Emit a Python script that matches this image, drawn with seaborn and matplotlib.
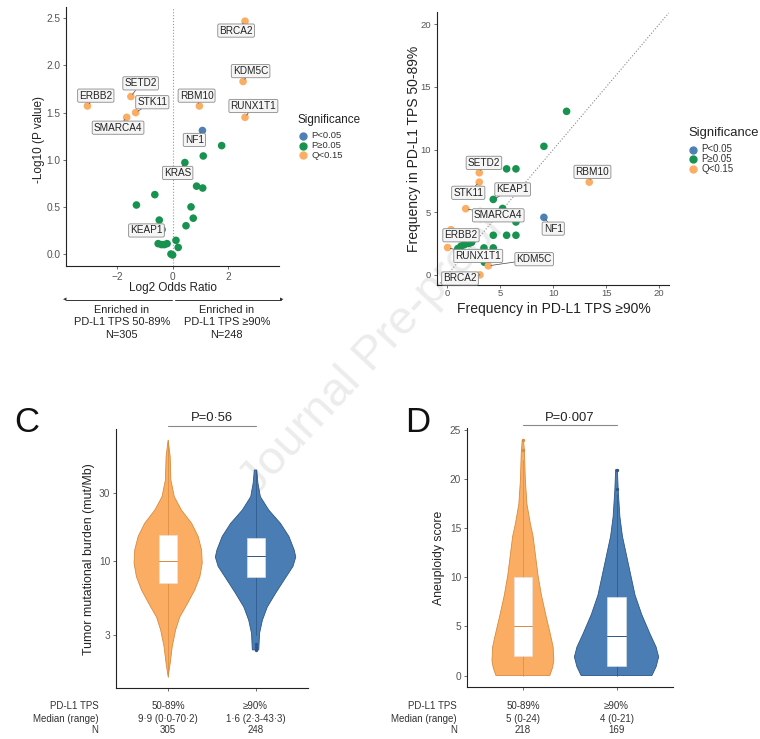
import numpy as np
import pandas as pd
import matplotlib
matplotlib.use("Agg")
import matplotlib.pyplot as plt
import matplotlib.transforms as mtrans
from matplotlib.lines import Line2D
import seaborn as sns

sns.set_style("ticks")
plt.rcParams["font.family"] = ["Liberation Sans", "DejaVu Sans"]

ORANGE = "#FBAE63"
GREEN = "#17934F"
BLUE = "#4E80B6"
sig_order = ["P<0.05", "P≥0.05", "Q<0.15"]
sig_colors = {"P<0.05": BLUE, "P≥0.05": GREEN, "Q<0.15": ORANGE}

# ── A : volcano ─────────────────────────────────────────────────────────────
volcano_genes = ["BRCA2", "KDM5C", "RUNX1T1", "RBM10", "ERBB2", "SETD2", "STK11",
                 "SMARCA4", "NF1", "KRAS", "KEAP1"] + [""] * 18
volcano_log2or = [2.6, 2.53, 2.6, 0.96, -3.06, -1.5, -1.33, -1.65, 1.07, 0.44, -0.38,
                  1.76, 1.1, 0.86, 1.08, -0.64, -1.3, 0.66, 0.74, -0.48, 0.48,
                  -0.52, -0.4, -0.3, -0.2, 0.12, 0.2, -0.06, 0.0]
volcano_logp = [2.47, 1.83, 1.45, 1.57, 1.57, 1.67, 1.5, 1.45, 1.31, 0.97, 0.26,
                1.15, 1.04, 0.72, 0.70, 0.63, 0.52, 0.50, 0.38, 0.36, 0.30,
                0.11, 0.10, 0.10, 0.11, 0.145, 0.07, 0.0, -0.01]
volcano_sig = ["Q<0.15"] * 8 + ["P<0.05"] + ["P≥0.05"] * 20
volcano_labels = {"BRCA2": (2.28, 2.37), "KDM5C": (2.8, 1.94), "RUNX1T1": (2.9, 1.57),
                  "RBM10": (0.86, 1.68), "ERBB2": (-2.76, 1.68), "SETD2": (-1.15, 1.81),
                  "STK11": (-0.73, 1.61), "SMARCA4": (-1.96, 1.34), "NF1": (0.78, 1.21),
                  "KRAS": (0.18, 0.86), "KEAP1": (-0.94, 0.25)}

# ── B : frequencies ─────────────────────────────────────────────────────────
freq_genes = ["SETD2", "STK11", "RBM10", "KEAP1", "SMARCA4", "NF1", "ERBB2",
              "RUNX1T1", "KDM5C", "BRCA2"] + [""] * 18
freq_90 = [3.02, 3.02, 13.4, 4.34, 1.74, 9.12, 0.35, 0.03, 3.87, 3.08,
           11.26, 9.12, 5.6, 6.48, 5.22, 6.48, 4.34, 5.6, 6.48, 3.46, 4.34, 3.5,
           1.0, 1.3, 1.6, 2.0, 2.3, 1.2]
freq_5089 = [8.15, 7.4, 7.4, 6.02, 5.28, 4.59, 3.6, 2.18, 0.72, 0.0,
             13.05, 10.26, 8.46, 8.46, 5.3, 4.22, 3.16, 3.16, 3.16, 2.15, 2.15, 1.0,
             2.1, 2.3, 2.4, 2.5, 2.6, 2.0]
freq_sig = ["Q<0.15", "Q<0.15", "Q<0.15", "P≥0.05", "Q<0.15", "P<0.05", "Q<0.15",
            "Q<0.15", "Q<0.15", "Q<0.15"] + ["P≥0.05"] * 18
freq_labels = {"SETD2": (3.46, 8.94), "STK11": (1.98, 6.55), "KEAP1": (6.17, 6.82),
               "SMARCA4": (4.81, 4.75), "RBM10": (13.7, 8.22), "NF1": (10.0, 3.69),
               "ERBB2": (1.29, 3.16), "RUNX1T1": (2.92, 1.51), "KDM5C": (8.2, 1.25),
               "BRCA2": (1.2, -0.29)}

# ── C / D : violins (profil de densité) ────────────────────────────────────
tps_groups = ["50-89%", "≥90%"]

tmb_vals = [[1.52, 1.89, 2.48, 3.25, 4.0, 5.0, 6.2, 7.7, 9.6, 11.9, 14.8, 18.3, 22.7,
             28.2, 37, 54, 70.9],
            [2.35, 3.08, 3.8, 4.7, 5.9, 7.3, 9.1, 10.6, 11.9, 14.8, 18.3, 22.7, 28.2,
             35, 43.5]]
tmb_dens = [[0, 0.06, 0.12, 0.22, 0.34, 0.57, 0.78, 0.93, 1.0, 0.98, 0.88, 0.69, 0.39,
             0.18, 0.08, 0.06, 0],
            [0.08, 0.10, 0.17, 0.29, 0.5, 0.71, 0.93, 1.0, 0.96, 0.83, 0.62, 0.33, 0.12,
             0.06, 0.03]]
tmb_box = [[6.9, 10.0, 15.2], [7.7, 10.7, 14.5]]
tmb_whisk = [[1.52, 70.9], [3.0, 43.5]]
tmb_out = [[], [2.35, 2.45, 2.6]]
tmb_median_range = ["9·9 (0·0-70·2)", "1·6 (2·3-43·3)"]
tmb_n = [305, 248]

aneu_vals = [[0, 0.8, 1.5, 2.9, 4.2, 6.2, 8.2, 10.2, 12.2, 14.2, 15.5, 17.5, 19.9,
              22.9, 24],
             [0, 0.9, 1.9, 2.9, 4.2, 6.2, 8.2, 10.2, 12.2, 14.2, 16.2, 18.9, 21.0]]
aneu_dens = [[0.87, 0.96, 1.0, 0.98, 0.89, 0.74, 0.6, 0.49, 0.41, 0.33, 0.24, 0.13,
              0.08, 0.05, 0.02],
             [0.84, 0.94, 1.0, 0.94, 0.8, 0.6, 0.44, 0.34, 0.24, 0.14, 0.08, 0.04, 0.02]]
aneu_box = [[2, 5, 10], [1, 4, 8]]
aneu_whisk = [[0, 22], [0, 18.5]]
aneu_out = [[23, 24], [19, 21]]
aneu_median_range = ["5 (0-24)", "4 (0-21)"]
aneu_n = [218, 169]

W, H = 760, 739
fig = plt.figure(figsize=(W / 100, H / 100), dpi=100)
fig.patch.set_facecolor("white")
TXT = "#222222"


def px_axes(l, t, r, b):
    return fig.add_axes([l / W, 1 - b / H, (r - l) / W, (b - t) / H])


def style_axes(ax, tick_fs=7.3):
    sns.despine(ax=ax)
    for s in ("left", "bottom"):
        ax.spines[s].set_color("#222222")
        ax.spines[s].set_linewidth(0.8)
    ax.tick_params(length=2.5, width=0.6, color="#555555", labelcolor="#555555",
                   labelsize=tick_fs, pad=1.5)
    ax.set_facecolor("none")


def label_box(ax, text, xy, xytext):
    ax.annotate(text, xy=xy, xytext=xytext, ha="center", va="center", fontsize=7.2,
                color=TXT, zorder=5,
                bbox=dict(boxstyle="round,pad=0.16,rounding_size=0.15",
                          fc="#F5F5F5", ec="#8A8A8A", lw=0.6),
                arrowprops=dict(arrowstyle="-", color="#444444", lw=0.5,
                                shrinkA=0, shrinkB=2))


def sig_legend(x_title, y_title, x_mark, ys, x_text, title_fs, fs):
    fig.text(x_title / W, 1 - y_title / H, "Significance", ha="left", va="center",
             fontsize=title_fs, color=TXT)
    for s, y in zip(sig_order, ys):
        fig.add_artist(Line2D([x_mark / W], [1 - y / H], marker="o", ls="",
                              color=sig_colors[s], markersize=5))
        fig.text(x_text / W, 1 - y / H, s, ha="left", va="center", fontsize=fs,
                 color="#333333")


# watermark
fig.text(0.49, 0.52, "Journal Pre-proof", rotation=47, fontsize=34, color="#ECECEC",
         ha="center", va="center", zorder=-1)

# ── A ──
axA = px_axes(66, 7, 279, 266)
dfA = pd.DataFrame({"gene": volcano_genes, "log2or": volcano_log2or,
                    "logp": volcano_logp, "sig": volcano_sig})
axA.axvline(0, color="#9A9A9A", ls=":", lw=0.8, zorder=0)
sns.scatterplot(data=dfA.iloc[::-1], x="log2or", y="logp", hue="sig", hue_order=sig_order,
                palette=sig_colors, s=30, linewidth=0, ax=axA, legend=False, zorder=3)
for g, xy in volcano_labels.items():
    row = dfA[dfA["gene"] == g].iloc[0]
    label_box(axA, g, (row["log2or"], row["logp"]), xy)
axA.set_xlim(-3.83, 3.82)
axA.set_ylim(-0.127, 2.62)
axA.set_xticks([-2, 0, 2])
axA.set_yticks([0, 0.5, 1.0, 1.5, 2.0, 2.5])
axA.set_yticklabels(["0.0", "0.5", "1.0", "1.5", "2.0", "2.5"])
style_axes(axA)
axA.set_xlabel("Log2 Odds Ratio", fontsize=8.5, color=TXT)
axA.set_ylabel("-Log10 (P value)", fontsize=8.5, color=TXT)
axA.xaxis.set_label_coords(0.502, -0.062)
axA.yaxis.set_label_coords(-0.1, 0.49)
sig_legend(297.5, 120, 303.3, [136, 145.7, 155.3], 311, 8.4, 6.8)

# flèches d'enrichissement
fig.add_artist(Line2D([172 / W, 66 / W], [1 - 300 / H] * 2, color="#333333", lw=0.7))
fig.add_artist(Line2D([175 / W, 281 / W], [1 - 300 / H] * 2, color="#333333", lw=0.7))
fig.text(65 / W, 1 - 300 / H, "◂", fontsize=5, ha="center", va="center", color="#333333")
fig.text(282 / W, 1 - 300 / H, "▸", fontsize=5, ha="center", va="center", color="#333333")
for cx, txt in [(121.7, "Enriched in\nPD-L1 TPS 50-89%\nN=305"),
                (226.7, "Enriched in\nPD-L1 TPS ≥90%\nN=248")]:
    fig.text(cx / W, 1 - 305 / H, txt, ha="center", va="top", fontsize=7.9,
             color=TXT, linespacing=1.3)

# ── B ──
axB = px_axes(436.7, 12, 668.7, 285.5)
dfB = pd.DataFrame({"gene": freq_genes, "f90": freq_90, "f5089": freq_5089,
                    "sig": freq_sig})
axB.axline((0, 0), slope=1, color="#8A8A8A", ls=":", lw=0.8, zorder=0)
sns.scatterplot(data=dfB.iloc[::-1], x="f90", y="f5089", hue="sig", hue_order=sig_order,
                palette=sig_colors, s=30, linewidth=0, ax=axB, legend=False, zorder=3)
for g, xy in freq_labels.items():
    row = dfB[dfB["gene"] == g].iloc[0]
    label_box(axB, g, (row["f90"], row["f5089"]), xy)
axB.set_xlim(-1.0, 20.9)
axB.set_ylim(-0.85, 20.98)
axB.set_xticks([0, 5, 10, 15, 20])
axB.set_yticks([0, 5, 10, 15, 20])
style_axes(axB, tick_fs=6.8)
axB.tick_params(axis="x", pad=0.5, length=2)
axB.set_xlabel("Frequency in PD-L1 TPS ≥90%", fontsize=10, color=TXT)
axB.set_ylabel("Frequency in PD-L1 TPS 50-89%", fontsize=10, color=TXT)
axB.xaxis.set_label_coords(0.503, -0.06)
axB.yaxis.set_label_coords(-0.067, 0.5)
sig_legend(688, 132.7, 693.3, [149.5, 159.2, 168.9], 701.5, 9.4, 7.0)


# ── C / D ──
def draw_violins(ax, vals, dens, boxes, whisk, outl, maxw, boxw):
    fills = [ORANGE, "#4A7DB3"]
    edges = ["#D88A3C", "#2C5685"]
    for i in range(2):
        v = np.array(vals[i], dtype=float)
        w = np.array(dens[i], dtype=float) * maxw[i]
        xs = np.concatenate([i - w, (i + w)[::-1]])
        ys = np.concatenate([v, v[::-1]])
        ax.fill(xs, ys, fc=fills[i], ec=edges[i], lw=0.6, zorder=2)
        ax.plot([i, i], whisk[i], color=edges[i], lw=0.5, zorder=3)
        if outl[i]:
            ax.scatter([i] * len(outl[i]), outl[i], s=2, color=edges[i], zorder=3)
        q1, med, q3 = boxes[i]
        ax.bar(i, q3 - q1, bottom=q1, width=boxw, color="white", ec="#E4E4E4", lw=0.4,
               zorder=4)
        ax.plot([i - boxw / 2, i + boxw / 2], [med, med], color=edges[i], lw=0.7, zorder=5)
    ax.set_xlim(-0.6, 1.6)
    ax.set_xticks([0, 1])
    ax.set_xticklabels(["", ""])


def pval_bar(ax, text, yline, ytext):
    tr = mtrans.blended_transform_factory(ax.transData, fig.transFigure)
    ax.plot([0, 1], [1 - yline / H] * 2, color="#888888", lw=0.8, transform=tr,
            clip_on=False)
    ax.text(0.5, 1 - ytext / H, text, transform=tr, ha="center", va="center",
            fontsize=9.4, color=TXT)


def table_rows(ax, right_x, med_range, ns):
    tr = mtrans.blended_transform_factory(ax.transData, fig.transFigure)
    ys = [706, 718.5, 730]
    for y, lab in zip(ys, ["PD-L1 TPS", "Median (range)", "N"]):
        fig.text(right_x / W, 1 - y / H, lab, ha="right", va="center", fontsize=7,
                 color="#333333")
    for i in range(2):
        for y, t in zip(ys, [tps_groups[i], med_range[i], str(ns[i])]):
            ax.text(i, 1 - y / H, t, transform=tr, ha="center", va="center",
                    fontsize=7, color="#333333")


axC = px_axes(115.7, 429, 308, 688.3)
axC.set_yscale("log")
draw_violins(axC, tmb_vals, tmb_dens, tmb_box, tmb_whisk, tmb_out,
             maxw=[0.39, 0.46], boxw=0.205)
axC.set_ylim(1.26, 84.6)
axC.set_yticks([3, 10, 30])
axC.set_yticklabels(["3", "10", "30"])
axC.minorticks_off()
style_axes(axC)
axC.set_ylabel("Tumor mutational burden (mut/Mb)", fontsize=8.9, color=TXT)
axC.yaxis.set_label_coords(-0.108, 0.5)
pval_bar(axC, "P=0·56", 425.7, 418)
table_rows(axC, 98.3, tmb_median_range, tmb_n)
fig.text(27 / W, 1 - 423 / H, "C", fontsize=25, ha="center", va="center", color="#111111")

axD = px_axes(466.7, 428.3, 672.7, 687.3)
draw_violins(axD, aneu_vals, aneu_dens, aneu_box, aneu_whisk, aneu_out,
             maxw=[0.33, 0.45], boxw=0.2)
axD.set_ylim(-1.2, 25.2)
axD.set_yticks([0, 5, 10, 15, 20, 25])
style_axes(axD)
axD.set_ylabel("Aneuploidy score", fontsize=8.8, color=TXT)
axD.yaxis.set_label_coords(-0.105, 0.5)
pval_bar(axD, "P=0·007", 425, 418)
table_rows(axD, 456.7, aneu_median_range, aneu_n)
fig.text(418 / W, 1 - 423 / H, "D", fontsize=25, ha="center", va="center", color="#111111")

fig.savefig("out.png", dpi=100)
plt.close()
